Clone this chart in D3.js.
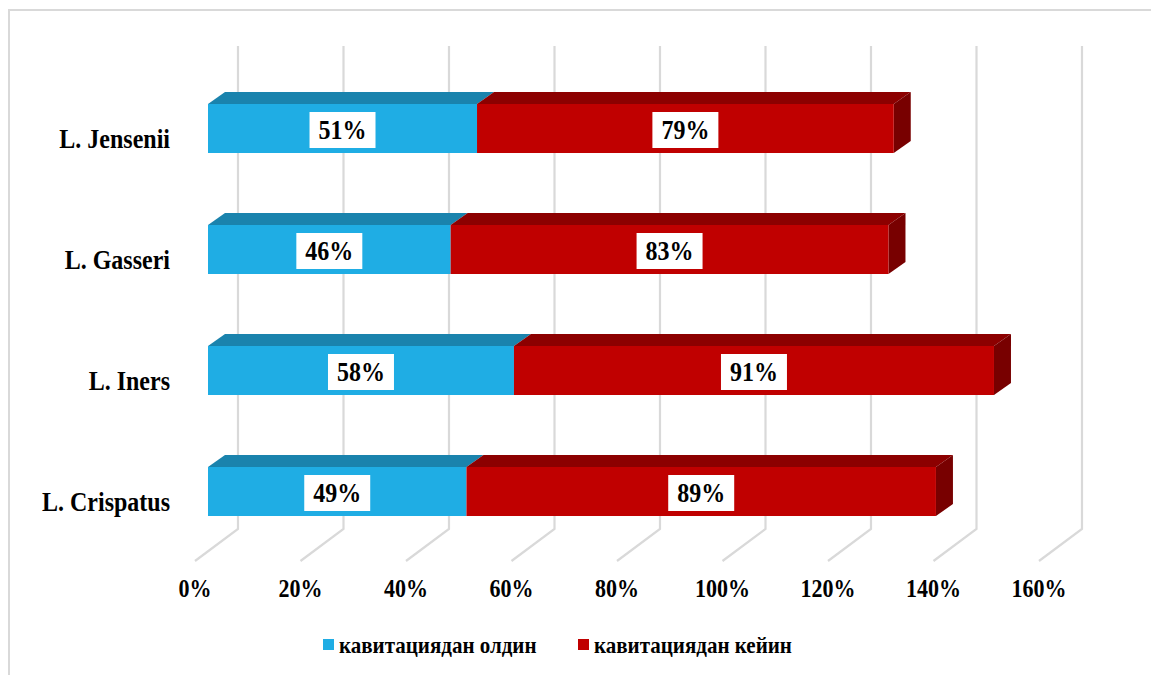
<!DOCTYPE html>
<html>
<head>
<meta charset="utf-8">
<script src="https://cdn.jsdelivr.net/npm/d3@7"></script>
<style>
  html, body { margin: 0; padding: 0; background: #ffffff; }
  svg { display: block; }
  text { font-family: "Liberation Serif", "Times New Roman", serif; font-weight: bold; fill: #000; }
</style>
</head>
<body>
<svg id="chart" width="1151" height="675"></svg>
<script>
// Lactobacillus species, listed top to bottom
const categories = ["L. Jensenii", "L. Gasseri", "L. Iners", "L. Crispatus"];
// Share before cavitation, %
const beforeValues = [51, 46, 58, 49];
// Share after cavitation, %
const afterValues = [79, 83, 91, 89];
const seriesNames = ["кавитациядан олдин", "кавитациядан кейин"];
const tickValues = [0, 20, 40, 60, 80, 100, 120, 140, 160];

const colors = {
  before: { front: "#1FADE4", top: "#1A83AD", side: "#14698C" },
  after:  { front: "#C00000", top: "#8C0000", side: "#780000" },
  grid: "#D9D9D9"
};

const svg = d3.select("#chart");
const W = 1151, H = 675;
const stretch = 1.1; // text is drawn slightly taller than wide

// place a text node at (px, py) with a vertical stretch
function placeText(sel, px, py) {
  return sel.attr("x", 0).attr("y", 0)
    .attr("transform", `translate(${px},${py}) scale(1,${stretch})`);
}

// outer frame (left and top edges)
svg.append("path")
  .attr("d", `M9,${H} L9,10 L${W},10`)
  .attr("fill", "none")
  .attr("stroke", colors.grid)
  .attr("stroke-width", 2);

// value scale for the front plane of the bars
const x = d3.scaleLinear().domain([0, 160]).range([208, 208 + 160 * 5.275]);
// category bands
const y = d3.scaleBand().domain(categories).range([68, 552]).paddingInner(0.595).paddingOuter(0.2975);

// 3D depth offsets
const wallDx = 30, wallTop = 46, wallBottom = 529;
const floorDx = -13, floorBottom = 561;
const barDx = 17, barDy = -12;

// gridlines: vertical on back wall then diagonal across the floor
const grid = svg.append("g");
tickValues.forEach(v => {
  const xb = x(v) + wallDx;
  grid.append("path")
    .attr("d", `M${xb},${wallTop} L${xb},${wallBottom} L${x(v) + floorDx},${floorBottom}`)
    .attr("fill", "none")
    .attr("stroke", colors.grid)
    .attr("stroke-width", 2.2);
});

// tick labels
svg.append("g").selectAll("text")
  .data(tickValues)
  .join("text")
  .each(function (v) { placeText(d3.select(this), x(v) + floorDx, 597); })
  .attr("text-anchor", "middle")
  .style("font-size", "22px")
  .text(v => v + "%");

// category labels
svg.append("g").selectAll("text")
  .data(categories)
  .join("text")
  .each(function (c) { placeText(d3.select(this), 170, y(c) + y.bandwidth() / 2 + 10); })
  .attr("dy", "0.35em")
  .attr("text-anchor", "end")
  .style("font-size", "24px")
  .text(c => c);

// build stacked segments
const segments = [];
categories.forEach((c, i) => {
  segments.push({ cat: c, x0: 0, x1: beforeValues[i], value: beforeValues[i], col: colors.before, last: false });
  segments.push({ cat: c, x0: beforeValues[i], x1: beforeValues[i] + afterValues[i], value: afterValues[i], col: colors.after, last: true });
});

const bars = svg.append("g");
segments.forEach(s => {
  const top = y(s.cat), bh = y.bandwidth();
  const a = x(s.x0), b = x(s.x1);
  // top face
  bars.append("path")
    .attr("d", `M${a},${top} L${b},${top} L${b + barDx},${top + barDy} L${a + barDx},${top + barDy} Z`)
    .attr("fill", s.col.top);
  // side face at the end of the stack
  if (s.last) {
    bars.append("path")
      .attr("d", `M${b},${top} L${b + barDx},${top + barDy} L${b + barDx},${top + barDy + bh} L${b},${top + bh} Z`)
      .attr("fill", s.col.side);
  }
  // front face
  bars.append("rect")
    .attr("x", a).attr("y", top)
    .attr("width", b - a).attr("height", bh)
    .attr("fill", s.col.front);
});

// value labels in white boxes
const labels = svg.append("g");
segments.forEach(s => {
  const cx = (x(s.x0) + x(s.x1)) / 2;
  const cy = y(s.cat) + y.bandwidth() / 2 + 1.5;
  const g = labels.append("g");
  const rect = g.append("rect").attr("fill", "#ffffff");
  const t = placeText(g.append("text"), cx, cy)
    .attr("dy", "0.35em")
    .attr("text-anchor", "middle")
    .style("font-size", "24px")
    .text(s.value + "%");
  const bb = t.node().getBBox();
  const bw = bb.width + 18, bhh = 36;
  rect.attr("x", cx - bw / 2).attr("y", cy - bhh / 2).attr("width", bw).attr("height", bhh);
});

// legend
const legend = svg.append("g");
const legendItems = [
  { name: seriesNames[0], color: colors.before.front, x: 323 },
  { name: seriesNames[1], color: colors.after.front, x: 578 }
];
legendItems.forEach(d => {
  legend.append("rect")
    .attr("x", d.x).attr("y", 639)
    .attr("width", 11).attr("height", 11)
    .attr("fill", d.color);
  placeText(legend.append("text"), d.x + 16, 653)
    .style("font-size", "21px")
    .text(d.name);
});
</script>
</body>
</html>
